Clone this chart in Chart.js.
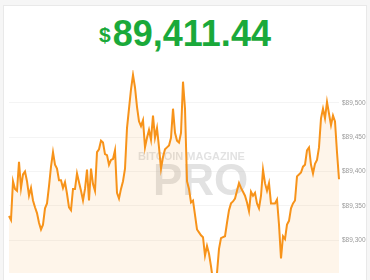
<!DOCTYPE html>
<html>
<head>
<meta charset="utf-8">
<script src="https://cdn.jsdelivr.net/npm/chart.js@4.4.1/dist/chart.umd.min.js"></script>
<style>
  html, body { margin: 0; padding: 0; width: 370px; height: 280px; overflow: hidden; background: #f6f6f6; }
  #card { position: absolute; left: 3px; top: 5px; width: 364px; height: 290px; background: #fff; border: 1px solid #e9e9e9; box-sizing: border-box; }
  #title { position: absolute; left: 0; top: 14px; width: 370px; display: flex; justify-content: center; align-items: flex-start;
           font-family: "Liberation Sans", Arial, sans-serif; font-weight: bold; color: #1aa93a; }
  #title .cur { font-size: 21px; line-height: 21px; margin-top: 10px; margin-right: 2px; }
  #title .num { font-size: 36px; line-height: 40px; }
  #wrap { position: absolute; left: 0; top: 0; width: 370px; height: 280px; }
</style>
</head>
<body>
<div id="card"></div>
<div id="title"><span class="cur">$</span><span class="num">89,411.44</span></div>
<div id="wrap"><canvas id="c" width="370" height="280"></canvas></div>
<script>
const priceLabel = "$89,411.44";
const yTicks = [89300, 89350, 89400, 89450, 89500];
const prices = [
  89335.3, 89329.6, 89385.9, 89374.7, 89371.9, 89414.1, 89376.1, 89395.8, 89400.0, 89385.9,
  89364.8, 89376.1, 89357.8, 89347.9, 89339.5, 89325.4, 89315.6, 89322.6, 89346.5, 89353.6,
  89378.9, 89407.1, 89428.2, 89409.9, 89404.3, 89387.4, 89387.4, 89376.1, 89384.5, 89367.6,
  89347.9, 89343.7, 89374.7, 89374.7, 89397.2, 89384.5, 89371.9, 89357.8, 89374.7, 89402.8,
  89357.8, 89404.3, 89381.7, 89371.9, 89428.2, 89432.4, 89445.1, 89442.3, 89425.4, 89424.0,
  89409.9, 89416.9, 89418.3, 89431.0, 89369.1, 89360.6, 89374.7, 89385.9, 89404.3, 89463.4,
  89491.6, 89519.7, 89540.8, 89522.5, 89494.4, 89473.2, 89466.2, 89474.7, 89435.2, 89449.3,
  89460.6, 89446.5, 89481.7, 89449.3, 89463.4, 89435.2, 89404.3, 89421.2, 89432.4, 89435.2,
  89438.0, 89449.3, 89491.6, 89456.4, 89445.1, 89442.3, 89456.4, 89531.0, 89491.6, 89385.9,
  89374.7, 89355.0, 89357.8, 89336.7, 89315.6, 89311.3, 89307.1, 89304.3, 89277.5, 89291.6,
  89280.4, 89262.0, 89240.9, 89238.1, 89252.2, 89287.4, 89302.9, 89304.3, 89305.7, 89325.4,
  89343.7, 89353.6, 89356.4, 89360.6, 89371.9, 89383.1, 89376.1, 89370.5, 89364.8, 89355.0,
  89342.3, 89370.5, 89364.8, 89369.1, 89353.6, 89346.5, 89364.8, 89402.8, 89383.1, 89371.9,
  89383.1, 89353.6, 89353.6, 89353.6, 89359.2, 89322.6, 89273.3, 89305.7, 89301.5, 89322.6,
  89328.2, 89346.5, 89353.6, 89357.8, 89393.0, 89395.8, 89398.6, 89407.1, 89409.9, 89431.0,
  89435.2, 89409.9, 89397.2, 89411.3, 89416.9, 89435.2, 89477.5, 89491.6, 89477.5, 89501.4,
  89484.5, 89467.6, 89481.7, 89473.2, 89428.2, 89388.8
];
const minutes = prices.map((_, i) => i);
const watermarkTop = "BITCOIN MAGAZINE";
const watermarkMain = "PRO";

const watermark = {
  id: 'watermark',
  beforeDatasetsDraw(chart) {
    const ctx = chart.ctx;
    ctx.save();
    ctx.fillStyle = 'rgba(190,190,190,0.45)';
    ctx.textBaseline = 'alphabetic';
    ctx.textAlign = 'left';
    ctx.font = 'bold 11px "Liberation Sans", Arial, sans-serif';
    ctx.fillText(watermarkTop, 138, 160);
    ctx.font = 'bold 44px "Liberation Sans", Arial, sans-serif';
    ctx.fillText(watermarkMain, 153, 195);
    ctx.restore();
  }
};

new Chart(document.getElementById('c'), {
  type: 'line',
  data: {
    labels: minutes,
    datasets: [{
      data: prices,
      borderColor: '#f7931a',
      borderWidth: 2,
      backgroundColor: 'rgba(247,147,26,0.09)',
      fill: 'start',
      pointRadius: 0,
      tension: 0
    }]
  },
  options: {
    responsive: false,
    animation: false,
    events: [],
    layout: { padding: { left: 9, top: 70, right: 0, bottom: 0 } },
    plugins: { legend: { display: false }, tooltip: { enabled: false }, title: { display: false } },
    scales: {
      x: { display: false, offset: false },
      y: {
        position: 'right',
        min: 89252,
        max: 89548,
        afterFit(s) { s.width = 31; },
        afterBuildTicks(s) { s.ticks = yTicks.map(v => ({ value: v })); },
        border: { display: false },
        grid: { color: 'rgba(0,0,0,0.045)', drawTicks: false, lineWidth: 1 },
        ticks: {
          padding: 3,
          color: '#9a9a9a',
          font: { size: 6.5, family: '"Liberation Sans", Arial, sans-serif' },
          callback: v => '$' + v.toLocaleString('en-US')
        }
      }
    }
  },
  plugins: [watermark]
});
</script>
</body>
</html>
